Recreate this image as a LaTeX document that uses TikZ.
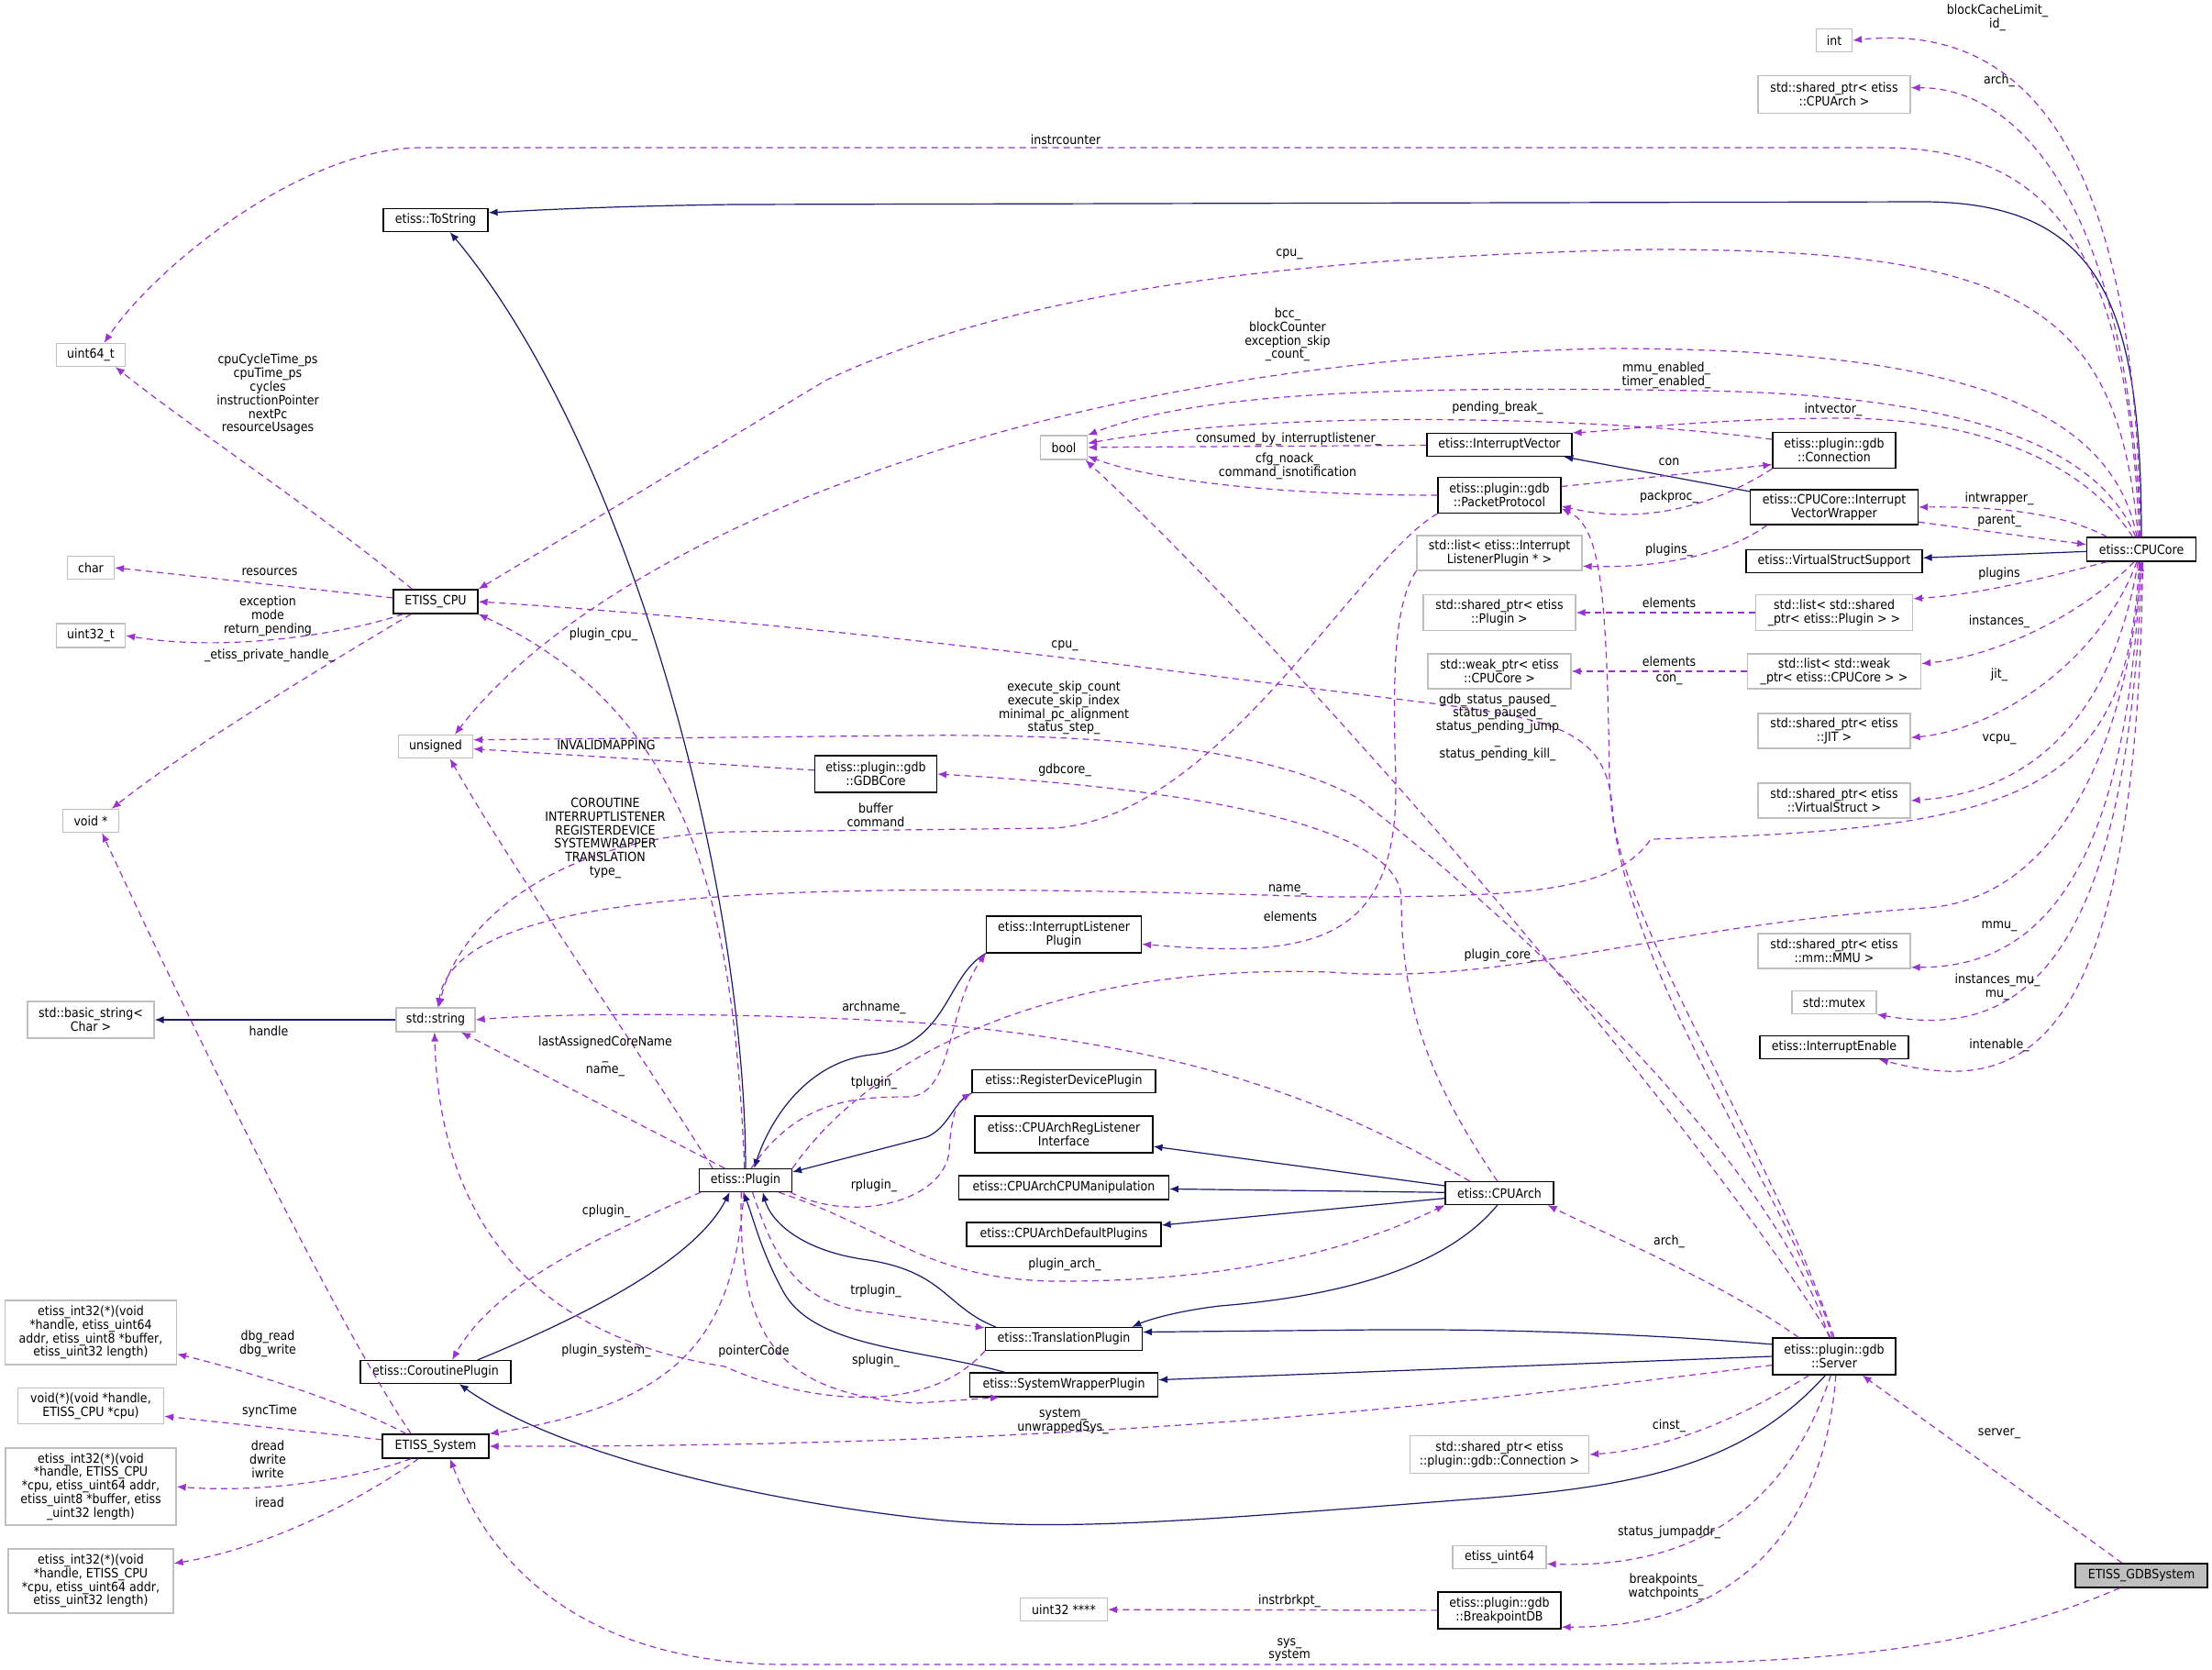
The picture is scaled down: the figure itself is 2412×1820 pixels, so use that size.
\documentclass[tikz,border=0pt]{standalone}
\usepackage{fontspec}
\IfFontExistsTF{DejaVu Sans Condensed}{\setmainfont{DejaVu Sans Condensed}}{\setmainfont{Liberation Sans}}
\usepackage{tikz}
\usetikzlibrary{arrows.meta}
\definecolor{edgeInh}{HTML}{191970}
\definecolor{edgeUse}{HTML}{9A32CD}
\definecolor{boxGray}{HTML}{BFBFBF}

\begin{document}
\begin{tikzpicture}[x=0.5pt,y=-0.5pt,
  font=\fontsize{7}{7.4}\selectfont,
  every node/.style={align=center,inner sep=0pt},
  cls/.style={draw=black,line width=0.6pt,fill=white},
  ext/.style={draw=boxGray,line width=0.6pt,fill=white},
  dim/.style 2 args={minimum width=#1*0.5pt,minimum height=#2*0.5pt},
  inh/.style={draw=edgeInh,line width=0.6pt,-{Latex[length=5pt,width=4pt]}},
  member/.style={draw=edgeUse,line width=0.6pt,dash pattern=on 3.5pt off 2.5pt,-{Latex[length=5pt,width=4pt]}},
  lbl/.style={text=black}
]
\useasboundingbox[fill=white] (0,0) rectangle (2412,1820);

% Classes, right side
\node[ext,dim={39}{25}]   (int)         at (2000,44)   {int};
\node[ext,dim={166}{41}]  (spArch)      at (2000,103)  {std::shared\_ptr< etiss\\::CPUArch >};
\node[cls,dim={134}{39}]  (conn)        at (2000,491)  {etiss::plugin::gdb\\::Connection};
\node[cls,dim={183}{38}]  (ivWrap)      at (2000,553)  {etiss::CPUCore::Interrupt\\VectorWrapper};
\node[cls,dim={192}{25}]  (vss)         at (2000,612)  {etiss::VirtualStructSupport};
\node[cls,dim={119}{26}]  (cpuCore)     at (2335,599)  {etiss::CPUCore};
\node[ext,dim={171}{39}]  (lstSpPlugin) at (2000,668)  {std::list< std::shared\\\_ptr< etiss::Plugin > >};
\node[ext,dim={189}{38}]  (lstWpCore)   at (2000,732)  {std::list< std::weak\\\_ptr< etiss::CPUCore > >};
\node[ext,dim={166}{38}]  (spJIT)       at (2000,797)  {std::shared\_ptr< etiss\\::JIT >};
\node[ext,dim={166}{38}]  (spVS)        at (2000,873)  {std::shared\_ptr< etiss\\::VirtualStruct >};
\node[ext,dim={166}{38}]  (spMMU)       at (2000,1037) {std::shared\_ptr< etiss\\::mm::MMU >};
\node[ext,dim={92}{25}]   (mutex)       at (2000,1093) {std::mutex};
\node[cls,dim={162}{25}]  (intEnable)   at (2000,1142) {etiss::InterruptEnable};
\node[cls,dim={134}{40}]  (server)      at (2000,1479) {etiss::plugin::gdb\\::Server};
\node[cls,fill=boxGray,dim={144}{26}] (gdbSystem) at (2335,1718) {ETISS\_GDBSystem};

% Classes, middle
\node[ext,dim={51}{26}]   (bool)        at (1160,488)  {bool};
\node[cls,dim={158}{25}]  (intVec)      at (1635,485)  {etiss::InterruptVector};
\node[cls,dim={134}{39}]  (packProto)   at (1635,540)  {etiss::plugin::gdb\\::PacketProtocol};
\node[ext,dim={180}{38}]  (lstILP)      at (1635,603)  {std::list< etiss::Interrupt\\ListenerPlugin * >};
\node[ext,dim={166}{39}]  (spPlugin)    at (1635,668)  {std::shared\_ptr< etiss\\::Plugin >};
\node[ext,dim={156}{38}]  (wpCore)      at (1635,732)  {std::weak\_ptr< etiss\\::CPUCore >};
\node[cls,dim={118}{25}]  (cpuArch)     at (1635,1301) {etiss::CPUArch};
\node[ext,dim={195}{41}]  (spConn)      at (1635,1586) {std::shared\_ptr< etiss\\::plugin::gdb::Connection >};
\node[ext,dim={102}{25}]  (euint64)     at (1635,1698) {etiss\_uint64};
\node[cls,dim={134}{40}]  (bpDB)        at (1635,1756) {etiss::plugin::gdb\\::BreakpointDB};
\node[cls,dim={133}{40}]  (gdbCore)     at (955,844)   {etiss::plugin::gdb\\::GDBCore};
\node[cls,dim={169}{40}]  (intListen)   at (1160,1019) {etiss::InterruptListener\\Plugin};
\node[cls,dim={200}{25}]  (regDev)      at (1160,1179) {etiss::RegisterDevicePlugin};
\node[cls,dim={194}{40}]  (regListen)   at (1160,1237) {etiss::CPUArchRegListener\\Interface};
\node[cls,dim={229}{26}]  (cpuManip)    at (1160,1295) {etiss::CPUArchCPUManipulation};
\node[cls,dim={212}{26}]  (defPlugins)  at (1160,1346) {etiss::CPUArchDefaultPlugins};
\node[cls,dim={171}{25}]  (transPlugin) at (1160,1460) {etiss::TranslationPlugin};
\node[cls,dim={205}{26}]  (swPlugin)    at (1160,1510) {etiss::SystemWrapperPlugin};
\node[ext,dim={95}{25}]   (u32p)        at (1160,1755) {uint32 ****};
\node[cls,dim={101}{25}]  (plugin)      at (813,1287)  {etiss::Plugin};

% Classes, left side
\node[cls,dim={114}{25}]  (toString)    at (475,240)   {etiss::ToString};
\node[ext,dim={75}{25}]   (uint64)      at (99,387)    {uint64\_t};
\node[ext,dim={51}{25}]   (char)        at (99,619)    {char};
\node[cls,dim={92}{26}]   (etissCPU)    at (475,656)   {ETISS\_CPU};
\node[ext,dim={75}{26}]   (uint32)      at (99,693)    {uint32\_t};
\node[ext,dim={81}{25}]   (unsigned)    at (475,814)   {unsigned};
\node[ext,dim={61}{25}]   (voidp)       at (99,895)    {void *};
\node[ext,dim={138}{40}]  (basicStr)    at (99,1112)   {std::basic\_string<\\Char >};
\node[ext,dim={86}{26}]   (stdString)   at (475,1112)  {std::string};
\node[cls,dim={164}{25}]  (coPlugin)    at (475,1496)  {etiss::CoroutinePlugin};
\node[cls,dim={116}{26}]  (etissSys)    at (475,1577)  {ETISS\_System};
\node[ext,dim={187}{70}]  (fnDbg)       at (99,1453)   {etiss\_int32(*)(void\\*handle, etiss\_uint64\\addr, etiss\_uint8 *buffer,\\etiss\_uint32 length)};
\node[ext,dim={159}{39}]  (fnSync)      at (99,1533)   {void(*)(void *handle,\\ETISS\_CPU *cpu)};
\node[ext,dim={186}{84}]  (fnData)      at (99,1621)   {etiss\_int32(*)(void\\*handle, ETISS\_CPU\\*cpu, etiss\_uint64 addr,\\etiss\_uint8 *buffer, etiss\\\_uint32 length)};
\node[ext,dim={180}{70}]  (fnIread)     at (99,1724)   {etiss\_int32(*)(void\\*handle, ETISS\_CPU\\*cpu, etiss\_uint64 addr,\\etiss\_uint32 length)};

% Inheritance
\draw[inh] (cpuCore.north) .. controls (2335,330) and (2290,222) .. (2100,220) -- (800,223) .. controls (650,225) and (570,230) .. (toString.8);
\draw[inh] (plugin.north) .. controls (812,950) and (680,480) .. (toString.-40);
\draw[inh] (ivWrap) -- (intVec);
\draw[inh] (cpuCore) -- (vss);
\draw[inh] (stdString) -- (basicStr);
\draw[inh] (intListen.south west) .. controls (1030,1065) and (1035,1140) .. (950,1150) .. controls (880,1158) and (840,1220) .. (plugin.55);
\draw[inh] (regDev.south west) .. controls (1040,1200) and (1035,1230) .. (1010,1240) -- (plugin.10);
\draw[inh] (coPlugin.16) .. controls (650,1430) and (760,1370) .. (plugin.-143);
\draw[inh] (transPlugin.170) .. controls (1030,1425) and (1030,1385) .. (940,1373) .. controls (870,1362) and (840,1330) .. (plugin.-35);
\draw[inh] (swPlugin.168) .. controls (1000,1470) and (890,1470) .. (855,1410) .. controls (830,1365) and (822,1330) .. (plugin.-100);
\draw[inh] (cpuArch) -- (regListen);
\draw[inh] (cpuArch) -- (cpuManip);
\draw[inh] (cpuArch) -- (defPlugins);
\draw[inh] (cpuArch.-100) .. controls (1570,1390) and (1440,1415) .. (1330,1424) .. controls (1280,1430) and (1250,1440) .. (transPlugin.10);
\draw[inh] (server.169) .. controls (1800,1455) and (1650,1449) .. (1500,1450) -- (transPlugin.5);
\draw[inh] (server.west) -- (swPlugin.3);
\draw[inh] (server.-115) .. controls (1900,1600) and (1780,1622) .. (1600,1635) .. controls (1300,1658) and (1150,1672) .. (1000,1655) .. controls (800,1632) and (600,1580) .. (coPlugin.-27);

% Members of etiss::CPUCore
\draw[member] (cpuCore.95) .. controls (2330,150) and (2200,25) .. (int.east);
\draw[member] (cpuCore.93) .. controls (2320,220) and (2200,95) .. (spArch.5);
\draw[member] (cpuCore.100) .. controls (2320,260) and (2230,161) .. (2050,161) -- (460,161) .. controls (330,161) and (170,290) .. (uint64.42);
\draw[member] (cpuCore.105) .. controls (2310,330) and (2200,272) .. (1800,272) .. controls (1400,280) and (1100,320) .. (900,415) -- (etissCPU.north east);
\draw[member] (cpuCore.110) .. controls (2300,430) and (2100,380) .. (1750,380) .. controls (1100,395) and (650,600) .. (unsigned.32);
\draw[member] (cpuCore.115) .. controls (2290,490) and (2150,430) .. (1850,426) .. controls (1500,420) and (1300,430) .. (bool.north east);
\draw[member] (cpuCore.125) .. controls (2270,500) and (2150,455) .. (2000,456) .. controls (1850,457) and (1760,470) .. (intVec.north east);
\draw[member] (cpuCore.160) .. controls (2250,560) and (2180,552) .. (ivWrap.east);
\draw[member] (ivWrap.-10) -- (cpuCore.175);
\draw[member] (cpuCore.-160) .. controls (2230,630) and (2160,648) .. (lstSpPlugin.10);
\draw[member] (cpuCore.-120) .. controls (2270,670) and (2180,715) .. (lstWpCore.5);
\draw[member] (cpuCore.-110) .. controls (2290,720) and (2180,795) .. (spJIT.-5);
\draw[member] (cpuCore.-105) .. controls (2300,800) and (2200,865) .. (spVS.east);
\draw[member] (cpuCore.-100) .. controls (2320,860) and (2220,905) .. (1800,915) .. controls (1760,975) and (1650,978) .. (1450,978) .. controls (900,962) and (500,960) .. (stdString.80);
\draw[member] (cpuCore.-95) .. controls (2320,960) and (2220,1055) .. (spMMU.-12);
\draw[member] (cpuCore.-88) .. controls (2320,1090) and (2180,1130) .. (mutex.south east);
\draw[member] (cpuCore.-84) .. controls (2330,1160) and (2200,1195) .. (intEnable.-15);

% Members of the gdb plugin classes
\draw[member] (conn.170) .. controls (1750,455) and (1400,445) .. (bool.10);
\draw[member] (intVec) -- (bool);
\draw[member] (packProto.west) .. controls (1400,540) and (1260,525) .. (bool.-20);
\draw[member] (packProto.8) -- (conn.-167);
\draw[member] (conn.south west) .. controls (1880,545) and (1800,575) .. (packProto.-10);
\draw[member] (ivWrap.-165) .. controls (1890,600) and (1820,620) .. (lstILP.-9);
\draw[member] (lstSpPlugin) -- (spPlugin);
\draw[member] (lstWpCore) -- (wpCore);
\draw[member] (lstILP.south west) .. controls (1518,660) and (1519,750) .. (1522,850) .. controls (1525,1030) and (1430,1045) .. (intListen.-7);
\draw[member] (packProto.south west) .. controls (1480,610) and (1330,890) .. (1150,903) -- (800,907) .. controls (620,910) and (500,1000) .. (stdString.75);
\draw[member] (gdbCore) -- (unsigned);
\draw[member] (cpuArch.100) .. controls (1560,1180) and (1528,1100) .. (1528,980) .. controls (1528,900) and (1300,860) .. (gdbCore.east);
\draw[member] (cpuArch.158) .. controls (1450,1200) and (1300,1140) .. (1000,1115) .. controls (800,1103) and (600,1105) .. (stdString.east);

% Members of etiss::plugin::gdb::Server
\draw[member] (server.north) .. controls (1930,1250) and (1765,1000) .. (1758,880) .. controls (1752,800) and (1700,785) .. (1570,768) .. controls (1300,735) and (900,680) .. (etissCPU.east);
\draw[member] (server.95) .. controls (1950,1300) and (1760,1050) .. (1755,850) .. controls (1752,640) and (1745,575) .. (packProto.-12);
\draw[member] (server.100) .. controls (1850,1220) and (1420,720) .. (bool.-30);
\draw[member] (server.105) .. controls (1930,1250) and (1600,960) .. (1480,870) .. controls (1380,815) and (1200,800) .. (1000,802) -- (unsigned.10);
\draw[member] (server.152) .. controls (1880,1400) and (1760,1350) .. (cpuArch.-14);
\draw[member] (server.-172) .. controls (1600,1530) and (1200,1578) .. (etissSys.east);
\draw[member] (server.-143) .. controls (1900,1545) and (1820,1580) .. (spConn.east);
\draw[member] (server.-100) .. controls (1960,1610) and (1880,1712) .. (euint64.-8);
\draw[member] (server.-85) .. controls (1990,1660) and (1900,1775) .. (bpDB.-15);
\draw[member] (bpDB) -- (u32p);
\draw[member] (gdbSystem.147) -- (server.-34);
\draw[member] (gdbSystem.-150) .. controls (2150,1800) and (2000,1815) .. (1700,1815) -- (850,1815) .. controls (650,1812) and (540,1720) .. (etissSys.-41);

% Members of etiss::Plugin
\draw[member] (plugin.north east) .. controls (950,1150) and (1150,1050) .. (1450,1060) .. controls (1650,1075) and (1800,1010) .. (2100,990) .. controls (2250,980) and (2320,800) .. (cpuCore.-90);
\draw[member] (plugin.95) .. controls (800,1000) and (760,780) .. (etissCPU.south east);
\draw[member] (plugin.160) .. controls (700,1150) and (560,950) .. (unsigned.-40);
\draw[member] (plugin.150) -- (stdString.-26);
\draw[member] (transPlugin.south west) .. controls (1010,1545) and (880,1530) .. (790,1490) .. controls (600,1460) and (480,1350) .. (stdString.-95);
\draw[member] (plugin.-60) .. controls (850,1390) and (880,1425) .. (960,1432) -- (transPlugin.172);
\draw[member] (plugin.-110) .. controls (805,1450) and (840,1520) .. (1000,1530) -- (swPlugin.-169);
\draw[member] (plugin.-20) .. controls (970,1340) and (1010,1395) .. (1150,1397) .. controls (1350,1398) and (1480,1360) .. (cpuArch.south west);
\draw[member] (plugin.65) .. controls (870,1200) and (930,1196) .. (990,1196) .. controls (1040,1195) and (1032,1100) .. (intListen.south west);
\draw[member] (plugin.-15) .. controls (930,1335) and (1030,1310) .. (1035,1255) .. controls (1037,1215) and (1045,1200) .. (regDev.south west);
\draw[member] (plugin.-165) .. controls (650,1350) and (540,1400) .. (coPlugin.36);
\draw[member] (plugin.-98) .. controls (800,1460) and (740,1530) .. (etissSys.north east);

% Members of ETISS_CPU and ETISS_System
\draw[member] (etissCPU.152) .. controls (350,560) and (200,460) .. (uint64.-26);
\draw[member] (etissCPU.175) -- (char.east);
\draw[member] (etissCPU.-159) .. controls (380,690) and (250,712) .. (uint32.east);
\draw[member] (etissCPU.-153) .. controls (330,740) and (200,820) .. (voidp.30);
\draw[member] (etissSys.153) .. controls (370,1450) and (200,1100) .. (voidp.-47);
\draw[member] (etissSys.157) .. controls (380,1530) and (270,1495) .. (fnDbg.-14);
\draw[member] (etissSys.173) -- (fnSync.-8);
\draw[member] (etissSys.-153) .. controls (380,1615) and (280,1628) .. (fnData.east);
\draw[member] (etissSys.-144) .. controls (380,1645) and (280,1690) .. (fnIread.12);

% Edge labels
\node[lbl] (labBlock)    at (2178,19)   {blockCacheLimit\_\\id\_};
\node[lbl] (labArchA)    at (2180,88)   {arch\_};
\node[lbl] (labInstr)    at (1162,152)  {instrcounter};
\node[lbl] (labCpuA)     at (1406,277)  {cpu\_};
\node[lbl] (labBcc)      at (1404,365)  {bcc\_\\blockCounter\\exception\_skip\\\_count\_};
\node[lbl] (labMmuEn)    at (1817,409)  {mmu\_enabled\_\\timer\_enabled\_};
\node[lbl] (labPend)     at (1633,445)  {pending\_break\_};
\node[lbl] (labIntVec)   at (1999,447)  {intvector\_};
\node[lbl] (labConsumed) at (1405,479)  {consumed\_by\_interruptlistener\_};
\node[lbl] (labCfg)      at (1404,508)  {cfg\_noack\_\\command\_isnotification};
\node[lbl] (labCon)      at (1820,504)  {con};
\node[lbl] (labPackproc) at (1820,542)  {packproc\_};
\node[lbl] (labIntwrap)  at (2180,544)  {intwrapper\_};
\node[lbl] (labParent)   at (2180,568)  {parent\_};
\node[lbl] (labPluginsU) at (1820,600)  {plugins\_};
\node[lbl] (labPlugins)  at (2180,626)  {plugins};
\node[lbl] (labElemA)    at (1820,657)  {elements};
\node[lbl] (labInstanc)  at (2180,678)  {instances\_};
\node[lbl] (labElemB)    at (1820,721)  {elements};
\node[lbl] (labConU)     at (1820,741)  {con\_};
\node[lbl] (labJit)      at (2180,736)  {jit\_};
\node[lbl] (labVcpu)     at (2180,806)  {vcpu\_};
\node[lbl] (labGdbStat)  at (1633,793)  {gdb\_status\_paused\_\\status\_paused\_\\status\_pending\_jump\\\_\\status\_pending\_kill\_};
\node[lbl] (labName)     at (1404,970)  {name\_};
\node[lbl] (labElemC)    at (1407,999)  {elements};
\node[lbl] (labMmu)      at (2180,1010) {mmu\_};
\node[lbl] (labPcore)    at (1636,1042) {plugin\_core\_};
\node[lbl] (labMu)       at (2178,1076) {instances\_mu\_\\mu\_};
\node[lbl] (labIntEn)    at (2180,1140) {intenable\_};
\node[lbl] (labCpuCycle) at (292,430)   {cpuCycleTime\_ps\\cpuTime\_ps\\cycles\\instructionPointer\\nextPc\\resourceUsages};
\node[lbl] (labRes)      at (294,624)   {resources};
\node[lbl] (labExc)      at (292,672)   {exception\\mode\\return\_pending};
\node[lbl] (labPriv)     at (294,715)   {\_etiss\_private\_handle\_};
\node[lbl] (labPcpu)     at (658,692)   {plugin\_cpu\_};
\node[lbl] (labCpuB)     at (1161,704)  {cpu\_};
\node[lbl] (labExec)     at (1160,772)  {execute\_skip\_count\\execute\_skip\_index\\minimal\_pc\_alignment\\status\_step\_};
\node[lbl] (labInvalid)  at (661,812)   {INVALIDMAPPING};
\node[lbl] (labGdbcore)  at (1161,840)  {gdbcore\_};
\node[lbl] (labBuffer)   at (955,889)   {buffer\\command};
\node[lbl] (labType)     at (660,914)   {COROUTINE\\INTERRUPTLISTENER\\REGISTERDEVICE\\SYSTEMWRAPPER\\TRANSLATION\\type\_};
\node[lbl] (labArchname) at (953,1099)  {archname\_};
\node[lbl] (labHandle)   at (293,1124)  {handle};
\node[lbl] (labLastCore) at (660,1152)  {lastAssignedCoreName\\\_\\name\_};
\node[lbl] (labTplugin)  at (953,1181)  {tplugin\_};
\node[lbl] (labRplugin)  at (953,1293)  {rplugin\_};
\node[lbl] (labCplugin)  at (661,1321)  {cplugin\_};
\node[lbl] (labArchB)    at (1820,1354) {arch\_};
\node[lbl] (labParch)    at (1161,1379) {plugin\_arch\_};
\node[lbl] (labTrplug)   at (955,1408)  {trplugin\_};
\node[lbl] (labDbg)      at (292,1465)  {dbg\_read\\dbg\_write};
\node[lbl] (labPsys)     at (661,1473)  {plugin\_system\_};
\node[lbl] (labPtrCode)  at (822,1474)  {pointerCode};
\node[lbl] (labSplugin)  at (955,1484)  {splugin\_};
\node[lbl] (labSync)     at (294,1539)  {syncTime};
\node[lbl] (labSystem)   at (1159,1550) {system\_\\unwrappedSys\_};
\node[lbl] (labCinst)    at (1820,1555) {cinst\_};
\node[lbl] (labServer)   at (2180,1563) {server\_};
\node[lbl] (labDread)    at (292,1591)  {dread\\dwrite\\iwrite};
\node[lbl] (labIread)    at (294,1638)  {iread};
\node[lbl] (labJump)     at (1820,1671) {status\_jumpaddr\_};
\node[lbl] (labBreak)    at (1817,1730) {breakpoints\_\\watchpoints\_};
\node[lbl] (labBrkpt)    at (1406,1746) {instrbrkpt\_};
\node[lbl] (labSys)      at (1406,1799) {sys\_\\system};
\end{tikzpicture}
\end{document}
